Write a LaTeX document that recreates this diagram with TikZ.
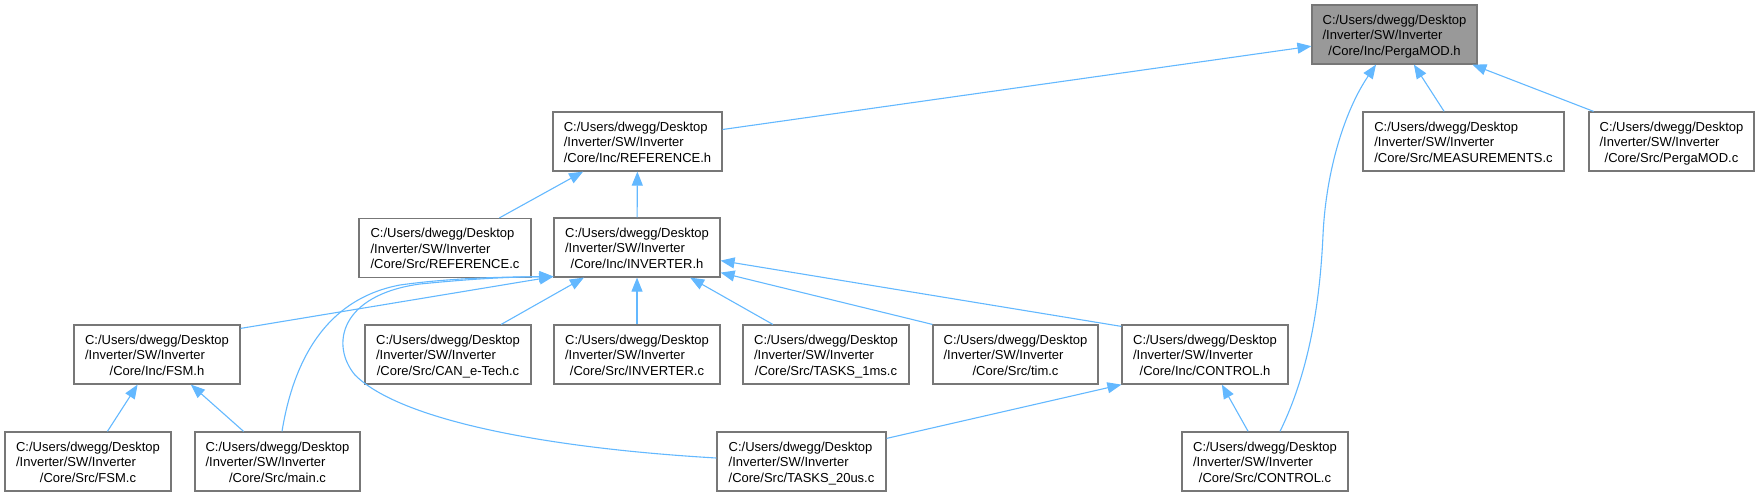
\documentclass[tikz,border=0pt]{standalone}
\usepackage{fontspec}
\setmainfont{Liberation Sans}
\usetikzlibrary{arrows.meta}
\definecolor{edgeblue}{HTML}{63B8FF}
\definecolor{boxline}{HTML}{777777}
\definecolor{rootfill}{HTML}{999999}
\newcommand{\flab}[1]{\begin{tabular}[b]{@{}l@{}}C:/Users/dwegg/Desktop\\/Inverter/SW/Inverter\\\multicolumn{1}{@{}c@{}}{#1}\end{tabular}}
\begin{document}
\begin{tikzpicture}[x=1pt,y=-1pt,
  fbox/.style={draw=boxline, line width=1.2pt, fill=white, rectangle,
    minimum height=59pt, inner xsep=2pt, inner ysep=0pt,
    text height=45pt, text depth=4pt,
    font=\fontsize{13}{15.5}\selectfont},
  rootbox/.style={fbox, fill=rootfill},
  edge/.style={draw=edgeblue, line width=1.1pt, -{Triangle[length=14pt,width=11pt]}}]
\useasboundingbox (0,0) rectangle (1760,496);
% nodes
\node[rootbox, minimum width=165pt] (pmh) at (1394.5,34.5) {\flab{/Core/Inc/PergaMOD.h}};
\node[fbox, minimum width=201pt] (meas) at (1463.5,141.5) {\flab{/Core/Src/MEASUREMENTS.c}};
\node[fbox, minimum width=165pt] (pmc) at (1671.5,141.5) {\flab{/Core/Src/PergaMOD.c}};
\node[fbox, minimum width=169pt] (refh) at (637.5,141.5) {\flab{/Core/Inc/REFERENCE.h}};
\node[fbox, minimum width=172pt] (refc) at (445,248) {\flab{/Core/Src/REFERENCE.c}};
\node[fbox, minimum width=166pt] (invh) at (637,247.5) {\flab{/Core/Inc/INVERTER.h}};
\node[fbox, minimum width=166pt] (fsmh) at (157,354.5) {\flab{/Core/Inc/FSM.h}};
\node[fbox, minimum width=166pt] (can) at (448,354.5) {\flab{/Core/Src/CAN\_e-Tech.c}};
\node[fbox, minimum width=166pt] (invc) at (637,354.5) {\flab{/Core/Src/INVERTER.c}};
\node[fbox, minimum width=166pt] (t1ms) at (826,354.5) {\flab{/Core/Src/TASKS\_1ms.c}};
\node[fbox, minimum width=165pt] (tim) at (1015.5,354.5) {\flab{/Core/Src/tim.c}};
\node[fbox, minimum width=166pt] (ctrlh) at (1205,354.5) {\flab{/Core/Inc/CONTROL.h}};
\node[fbox, minimum width=166pt] (fsmc) at (88,461.5) {\flab{/Core/Src/FSM.c}};
\node[fbox, minimum width=165pt] (mainc) at (277.5,461.5) {\flab{/Core/Src/main.c}};
\node[fbox, minimum width=169pt] (t20) at (801.5,461.5) {\flab{/Core/Src/TASKS\_20us.c}};
\node[fbox, minimum width=166pt] (ctrlc) at (1265,461.5) {\flab{/Core/Src/CONTROL.c}};
% edges
\draw[edge] (refh) -- (pmh);
\draw[edge] (meas) -- (pmh);
\draw[edge] (pmc) -- (pmh);
\draw[edge] ([xshift=15pt]ctrlc.north) .. controls (1310,370) and (1320,300) .. (1323,235)
  .. controls (1326,170) and (1345,110) .. ([xshift=-18.5pt]pmh.south);
\draw[edge] (refc) -- (refh);
\draw[edge] (invh) -- (refh);
\draw[edge] (can) -- (invh);
\draw[edge] (invc) -- (invh);
\draw[edge] (t1ms) -- (invh);
\draw[edge] (tim.north west) -- ([yshift=5pt]invh.south east);
\draw[edge] ([yshift=-2pt]ctrlh.north west) -- ([yshift=17pt]invh.south east);
\draw[edge] ([yshift=-4pt]fsmh.north east) -- ([yshift=1pt]invh.south west);
\draw[edge] ([xshift=4.5pt]mainc.north) .. controls (292,370) and (320,300) .. (400,285)
  .. controls (450,278) and (500,277) .. ([yshift=1pt]invh.south west);
\draw[edge] ([yshift=3.5pt]t20.west) .. controls (545,448) and (400,420) .. (355,375)
  .. controls (330,345) and (340,295) .. (420,284)
  .. controls (460,280) and (500,277) .. ([yshift=1pt]invh.south west);
\draw[edge] ([yshift=-7pt]t20.north east) -- (ctrlh.south west);
\draw[edge] (ctrlc) -- (ctrlh);
\draw[edge] (fsmc) -- (fsmh);
\draw[edge] (mainc) -- (fsmh);
\end{tikzpicture}
\end{document}
